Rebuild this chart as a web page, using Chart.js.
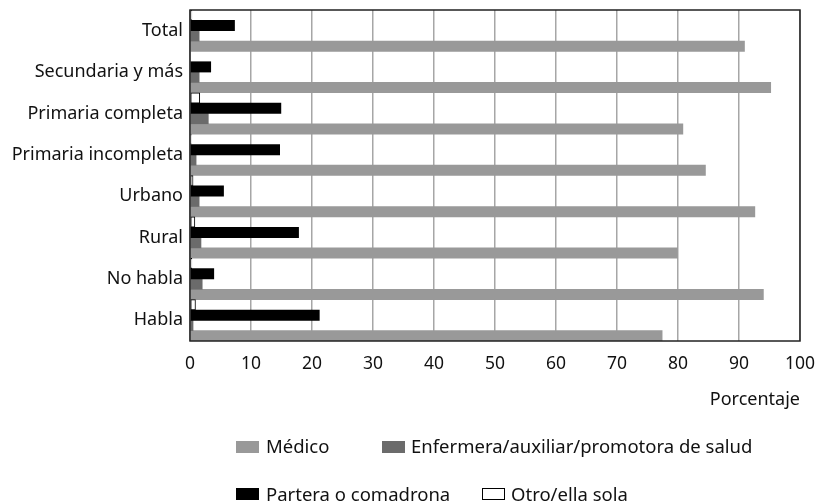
<!DOCTYPE html>
<html>
<head>
<meta charset="utf-8">
<script src="https://cdn.jsdelivr.net/npm/chart.js@4"></script>
<style>
  body { margin: 0; background: #fff; }
  #wrap { position: relative; width: 825px; height: 503px; }
  .lg-box { position: absolute; width: 23px; height: 12px; box-sizing: border-box; }
  .lg-txt { position: absolute; font: 18.5px "Noto Sans", sans-serif; line-height: 22px; color: #111; white-space: nowrap; }
</style>
</head>
<body>
<div id="wrap">
  <canvas id="myChart" width="825" height="503"></canvas>
  <div class="lg-box" style="left:236px;top:441px;background:#999999"></div>
  <div class="lg-txt" style="left:266px;top:435px">Médico</div>
  <div class="lg-box" style="left:382px;top:441px;background:#6b6b6b"></div>
  <div class="lg-txt" style="left:411px;top:435px">Enfermera/auxiliar/promotora de salud</div>
  <div class="lg-box" style="left:236px;top:488px;background:#000"></div>
  <div class="lg-txt" style="left:266px;top:483px">Partera o comadrona</div>
  <div class="lg-box" style="left:482px;top:488px;background:#fff;border:1px solid #000"></div>
  <div class="lg-txt" style="left:511px;top:483px">Otro/ella sola</div>
</div>
<script>
const categories = ['Total', 'Secundaria y más', 'Primaria completa', 'Primaria incompleta', 'Urbano', 'Rural', 'No habla', 'Habla'];
const otro = [0.3, 0, 1.6, 0.2, 0.5, 0.8, 0.3, 0.9];
const partera = [7.3, 3.4, 14.9, 14.7, 5.5, 17.8, 3.9, 21.2];
const enfermera = [1.5, 1.5, 3.0, 1.0, 1.5, 1.8, 2.0, 0.5];
const medico = [90.9, 95.2, 80.8, 84.5, 92.6, 79.9, 94.0, 77.4];

const labelFont = { family: '"Noto Sans", sans-serif', size: 18 };
const tickFont = { family: '"Noto Sans", sans-serif', size: 17.5 };

// box around the plot area
const frame = {
  id: 'frame',
  afterDatasetsDraw(chart) {
    const a = chart.chartArea;
    const c = chart.ctx;
    c.save();
    c.strokeStyle = '#222';
    c.lineWidth = 1.5;
    c.strokeRect(a.left, a.top, a.right - a.left, a.bottom - a.top);
    c.restore();
  }
};

const ctx = document.getElementById('myChart').getContext('2d');
new Chart(ctx, {
  type: 'bar',
  data: {
    labels: categories,
    datasets: [
      { label: 'Otro/ella sola', data: otro, backgroundColor: '#fff', borderColor: '#000', borderWidth: 1, borderSkipped: false },
      { label: 'Partera o comadrona', data: partera, backgroundColor: '#000' },
      { label: 'Enfermera/auxiliar/promotora de salud', data: enfermera, backgroundColor: '#6b6b6b' },
      { label: 'Médico', data: medico, backgroundColor: '#999999' }
    ]
  },
  plugins: [frame],
  options: {
    indexAxis: 'y',
    responsive: false,
    animation: false,
    layout: { padding: { top: 10, left: 0, right: 25, bottom: 90 } },
    datasets: { bar: { barPercentage: 1, categoryPercentage: 1 } },
    plugins: { legend: { display: false }, tooltip: { enabled: false } },
    scales: {
      x: {
        min: 0,
        max: 100,
        ticks: { stepSize: 10, color: '#111', font: tickFont, padding: 13 },
        grid: { color: '#a6a6a6', lineWidth: 1.5, drawTicks: false },
        border: { display: false },
        title: { display: true, text: 'Porcentaje', align: 'end', color: '#111', font: labelFont, padding: { top: 4, bottom: 2 } },
        afterFit: (scale) => {
          scale.height = 72;
          scale.paddingLeft = 0;
          scale.paddingRight = 0;
        }
      },
      y: {
        ticks: { color: '#111', font: labelFont, padding: 7 },
        grid: { display: false, drawTicks: false },
        border: { display: false },
        afterFit: (scale) => {
          scale.width = 190;
          scale.paddingTop = 0;
          scale.paddingBottom = 0;
        }
      }
    }
  }
});
</script>
</body>
</html>
